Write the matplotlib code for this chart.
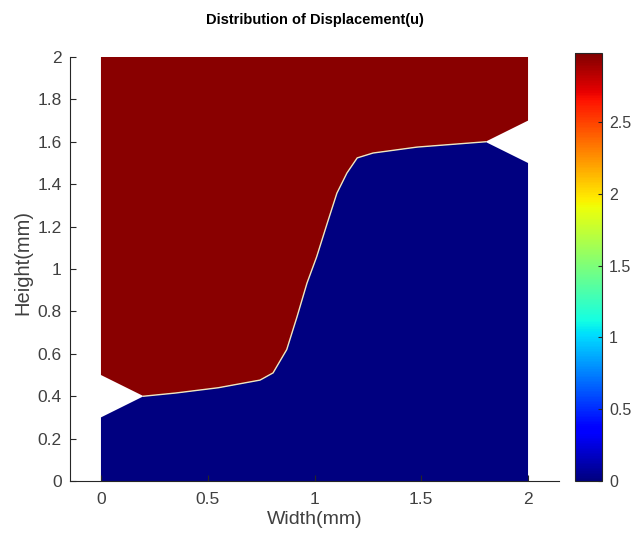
import numpy as np
import matplotlib
matplotlib.use("Agg")
import matplotlib.pyplot as plt
from matplotlib.patches import Polygon
from matplotlib.colors import Normalize
from matplotlib.cm import ScalarMappable

plt.rcParams['font.family'] = ['Liberation Sans', 'DejaVu Sans']

# Displacement levels of the two material zones
u_low = 0.0
u_high = 2.95
u_max = 2.98

# Interface between the zones, from the left notch tip to the right notch tip
iface_x = [0.20, 0.35, 0.55, 0.745, 0.806, 0.87, 0.918, 0.965, 1.01, 1.06, 1.105, 1.152, 1.20, 1.274, 1.48, 1.80]
iface_y = [0.40, 0.415, 0.44, 0.476, 0.51, 0.62, 0.774, 0.934, 1.057, 1.217, 1.358, 1.453, 1.524, 1.547, 1.575, 1.60]

# Outer boundary pieces (notched square domain)
lower_x = [1.80, 2.0, 2.0, 0.0, 0.0]
lower_y = [1.60, 1.5, 0.0, 0.0, 0.3]
upper_x = [2.0, 2.0, 0.0, 0.0]
upper_y = [1.7, 2.0, 2.0, 0.5]

xticks = [0, 0.5, 1, 1.5, 2]
xticklabels = ['0', '0.5', '1', '1.5', '2']
yticks = [0, 0.2, 0.4, 0.6, 0.8, 1.0, 1.2, 1.4, 1.6, 1.8, 2.0]
yticklabels = ['0', '0.2', '0.4', '0.6', '0.8', '1', '1.2', '1.4', '1.6', '1.8', '2']
cticks = [0, 0.5, 1, 1.5, 2, 2.5]
cticklabels = ['0', '0.5', '1', '1.5', '2', '2.5']

cmap = plt.get_cmap('jet')
norm = Normalize(vmin=u_low, vmax=u_max)

fig = plt.figure(figsize=(6.32, 5.37), dpi=100)
ax = fig.add_axes([70/632, 56/537, 489/632, 424/537])

lower_poly = np.column_stack([iface_x + lower_x, iface_y + lower_y])
upper_poly = np.column_stack([iface_x + upper_x, iface_y + upper_y])

ax.add_patch(Polygon(lower_poly, closed=True, facecolor=cmap(norm(u_low)), edgecolor='none'))
ax.add_patch(Polygon(upper_poly, closed=True, facecolor=cmap(norm(u_high)), edgecolor='none'))
ax.plot(iface_x, iface_y, color='#efe6c0', lw=1.0, solid_joinstyle='round')

ax.set_xlim(-0.145, 2.145)
ax.set_ylim(0, 2)
ax.set_xticks(xticks)
ax.set_xticklabels(xticklabels)
ax.set_yticks(yticks)
ax.set_yticklabels(yticklabels)
for s in ['top', 'right']:
    ax.spines[s].set_visible(False)
for s in ['left', 'bottom']:
    ax.spines[s].set_color('#262626')
    ax.spines[s].set_linewidth(0.8)
ax.tick_params(direction='in', length=4, colors='#262626', labelsize=12.5)
ax.tick_params(axis='x', pad=8)
ax.tick_params(axis='y', pad=6)
for lab in ax.get_xticklabels() + ax.get_yticklabels():
    lab.set_color('#404040')
ax.set_xlabel('Width(mm)', fontsize=14, color='#404040', labelpad=3)
ax.set_ylabel('Height(mm)', fontsize=14.5, color='#404040')
ax.yaxis.set_label_coords(-0.076, 0.515)
ax.set_title('Distribution of Displacement(u)', fontsize=10.5, fontweight='bold', pad=24)

cax = fig.add_axes([575/632, 56/537, 27/632, 428/537])
cb = fig.colorbar(ScalarMappable(norm=norm, cmap=cmap), cax=cax)
cb.set_ticks(cticks)
cb.set_ticklabels(cticklabels)
cb.outline.set_edgecolor('#262626')
cb.outline.set_linewidth(0.8)
cax.tick_params(direction='in', length=3, colors='#262626', labelsize=11.5, pad=5)
for lab in cax.get_yticklabels():
    lab.set_color('#404040')

fig.savefig('out.png', dpi=100)
